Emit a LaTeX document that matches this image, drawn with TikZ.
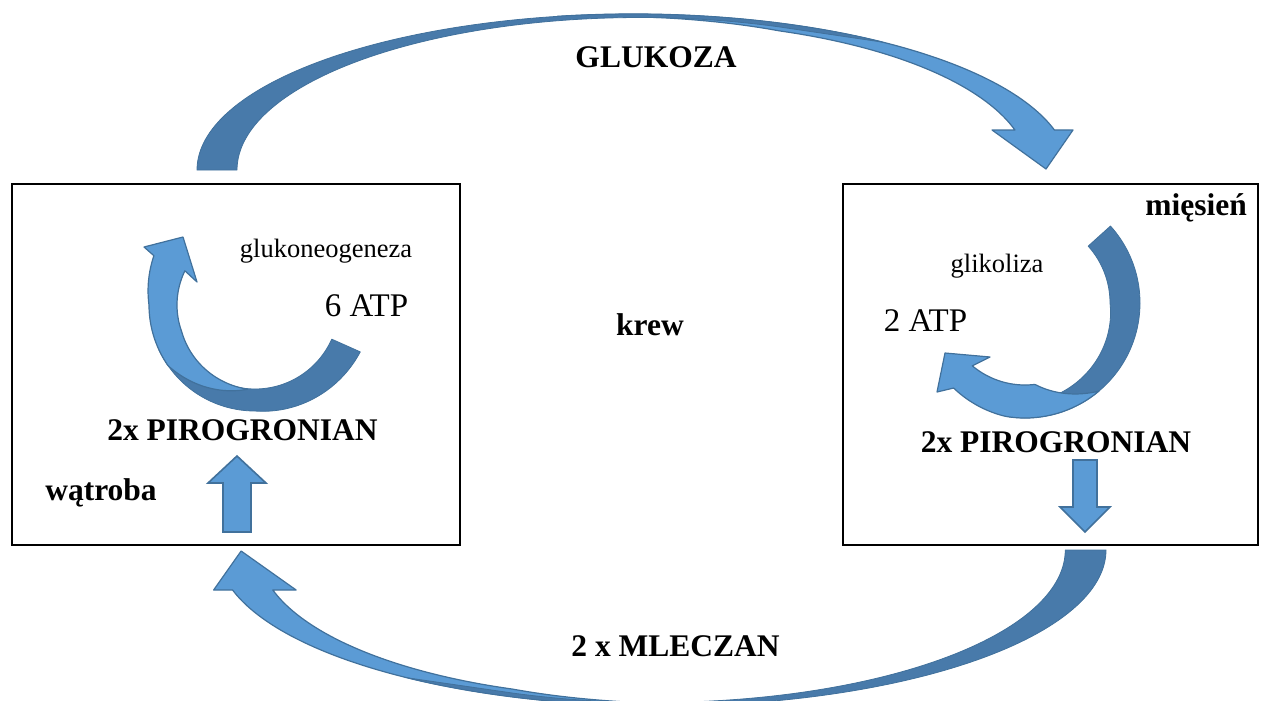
\documentclass[tikz,border=0pt]{standalone}
\usepackage{fontspec}
\setmainfont{Liberation Serif}
\definecolor{armlight}{HTML}{5B9BD5}
\definecolor{armdark}{RGB}{72,122,170}
\definecolor{armline}{HTML}{41719C}
\tikzset{
  lightband/.style={fill=armlight, draw=armline, line width=1.2pt, line join=round},
  darkband/.style={fill=armdark, draw=armline, line width=0.8pt, line join=round},
  blockarrow/.style={fill=armlight, draw=armline, line width=1.6pt, line join=miter},
  organ/.style={draw=black, line width=1.6pt, inner sep=0pt, fill=none},
  bigbold/.style={font=\fontsize{31.5}{36}\selectfont\bfseries, inner sep=0pt, anchor=base},
  smalllabel/.style={font=\fontsize{26.5}{30}\selectfont, inner sep=0pt, anchor=base},
  atplabel/.style={font=\fontsize{33}{38}\selectfont, inner sep=0pt, anchor=base},
}
% half-elliptic arrow: front band with head (tapering in from the top), back band from the tail
\newcommand{\halfloop}{%
  \draw[lightband]
    plot[domain=100:14.86, samples=80, variable=\t] ({633+436*cos(\t)},{-170+156*sin(\t)})
    -- (1073,-130) -- (1046,-169) -- (992,-130) -- (1015,-130)
    -- plot[domain=15.68:100, samples=80, variable=\t]
       ({633+436*cos(\t)+min(1,max(0,(100-\t)/30))*(17-57*cos(\t))},
        {-170+156*sin(\t)-min(1,max(0,(100-\t)/30))*8*sin(\t)})
    -- cycle;
  \draw[darkband]
    plot[domain=180:55, samples=90, variable=\t] ({633+436*cos(\t)},{-170+156*sin(\t)})
    -- plot[domain=70:180, samples=90, variable=\t] ({640+403*cos(\t)},{-170+152.5*sin(\t)})
    -- cycle;
}
\begin{document}
\begin{tikzpicture}[x=1pt,y=1pt]
\useasboundingbox (0,0) rectangle (1263,-701);

% organ boxes
\node[organ, minimum width=448pt, minimum height=361pt] (liver) at (236,-364.5) {};
\node[organ, minimum width=415pt, minimum height=361pt] (muscle) at (1050.5,-364.5) {};

% upper curved arrow (glucose)
\halfloop

% lower curved arrow (lactate): same outline turned half a turn
\begin{scope}[cm={-1.0187,0,0,-1,(1306.7,-720)}]
\halfloop
\end{scope}

% circular arrow in the liver (gluconeogenesis)
\begin{scope}[shift={(255,-305)}]
\draw[darkband]
  plot[domain=336:205, samples=90, variable=\t] ({(106+max(0,\t-270)*0.14)*cos(\t)},{(106+max(0,\t-270)*0.14)*sin(\t)})
  -- plot[domain=205:336, samples=90, variable=\t] ({(84+max(0,235-\t)*0.733)*cos(\t)},{(84+max(0,235-\t)*0.733)*sin(\t)})
  -- cycle;
\draw[lightband]
  plot[domain=265:154, samples=90, variable=\t] ({(106+max(0,180-\t)*0.25-max(0,\t-215)*0.43)*cos(\t)},{(106+max(0,180-\t)*0.25-max(0,\t-215)*0.43)*sin(\t)})
  -- (-111,58) -- (-72,68) -- (-58,23)
  -- plot[domain=154:265, samples=90, variable=\t] ({(78+max(0,\t-200)*0.1)*cos(\t)},{(78+max(0,\t-200)*0.1)*sin(\t)})
  -- cycle;
\end{scope}

% circular arrow in the muscle (glycolysis)
\begin{scope}[shift={(1025,-303)}]
\draw[darkband]
  plot[domain=42:-98, samples=90, variable=\t] ({115*cos(\t)},{115*sin(\t)})
  -- plot[domain=-98:42, samples=90, variable=\t] ({(85+max(0,-\t)*0.17+max(0,-70-\t)*0.464)*cos(\t)},{(85+max(0,-\t)*0.17+max(0,-70-\t)*0.464)*sin(\t)})
  -- cycle;
\draw[lightband]
  plot[domain=-50:-130, samples=90, variable=\t] ({(115-max(0,-100-\t)*0.133)*cos(\t)},{(115-max(0,-100-\t)*0.133)*sin(\t)})
  -- (-88,-89) -- (-80,-50) -- (-35,-54)
  -- plot[domain=-130:-50, samples=90, variable=\t] ({max(82,115-(-50-\t)*1.0)*cos(\t)},{max(82,115-(-50-\t)*1.0)*sin(\t)})
  -- cycle;
\end{scope}

% straight block arrows
\draw[blockarrow] (223,-532) -- (223,-483) -- (208,-483) -- (237,-456)
  -- (266,-483) -- (251,-483) -- (251,-532) -- cycle;
\draw[blockarrow] (1073,-460) -- (1073,-507) -- (1060,-507) -- (1085,-532)
  -- (1110,-507) -- (1097,-507) -- (1097,-460) -- cycle;

% labels
\node[bigbold] (glukoza) at (656,-67) {GLUKOZA};
\node[bigbold] (mleczan) at (675.5,-656) {2 x MLECZAN};
\node[bigbold] (krew) at (650,-335) {krew};
\node[bigbold] (pirL) at (242.5,-440) {2x PIROGRONIAN};
\node[bigbold] (pirR) at (1056,-452) {2x PIROGRONIAN};
\node[bigbold] (watroba) at (101,-500) {wątroba};
\node[bigbold] (miesien) at (1196,-215) {mięsień};
\node[smalllabel] (gng) at (326,-257) {glukoneogeneza};
\node[smalllabel] (glik) at (997,-272) {glikoliza};
\node[atplabel] (atpL) at (366.5,-316) {6 ATP};
\node[atplabel] (atpR) at (925.5,-331) {2 ATP};
\end{tikzpicture}
\end{document}
